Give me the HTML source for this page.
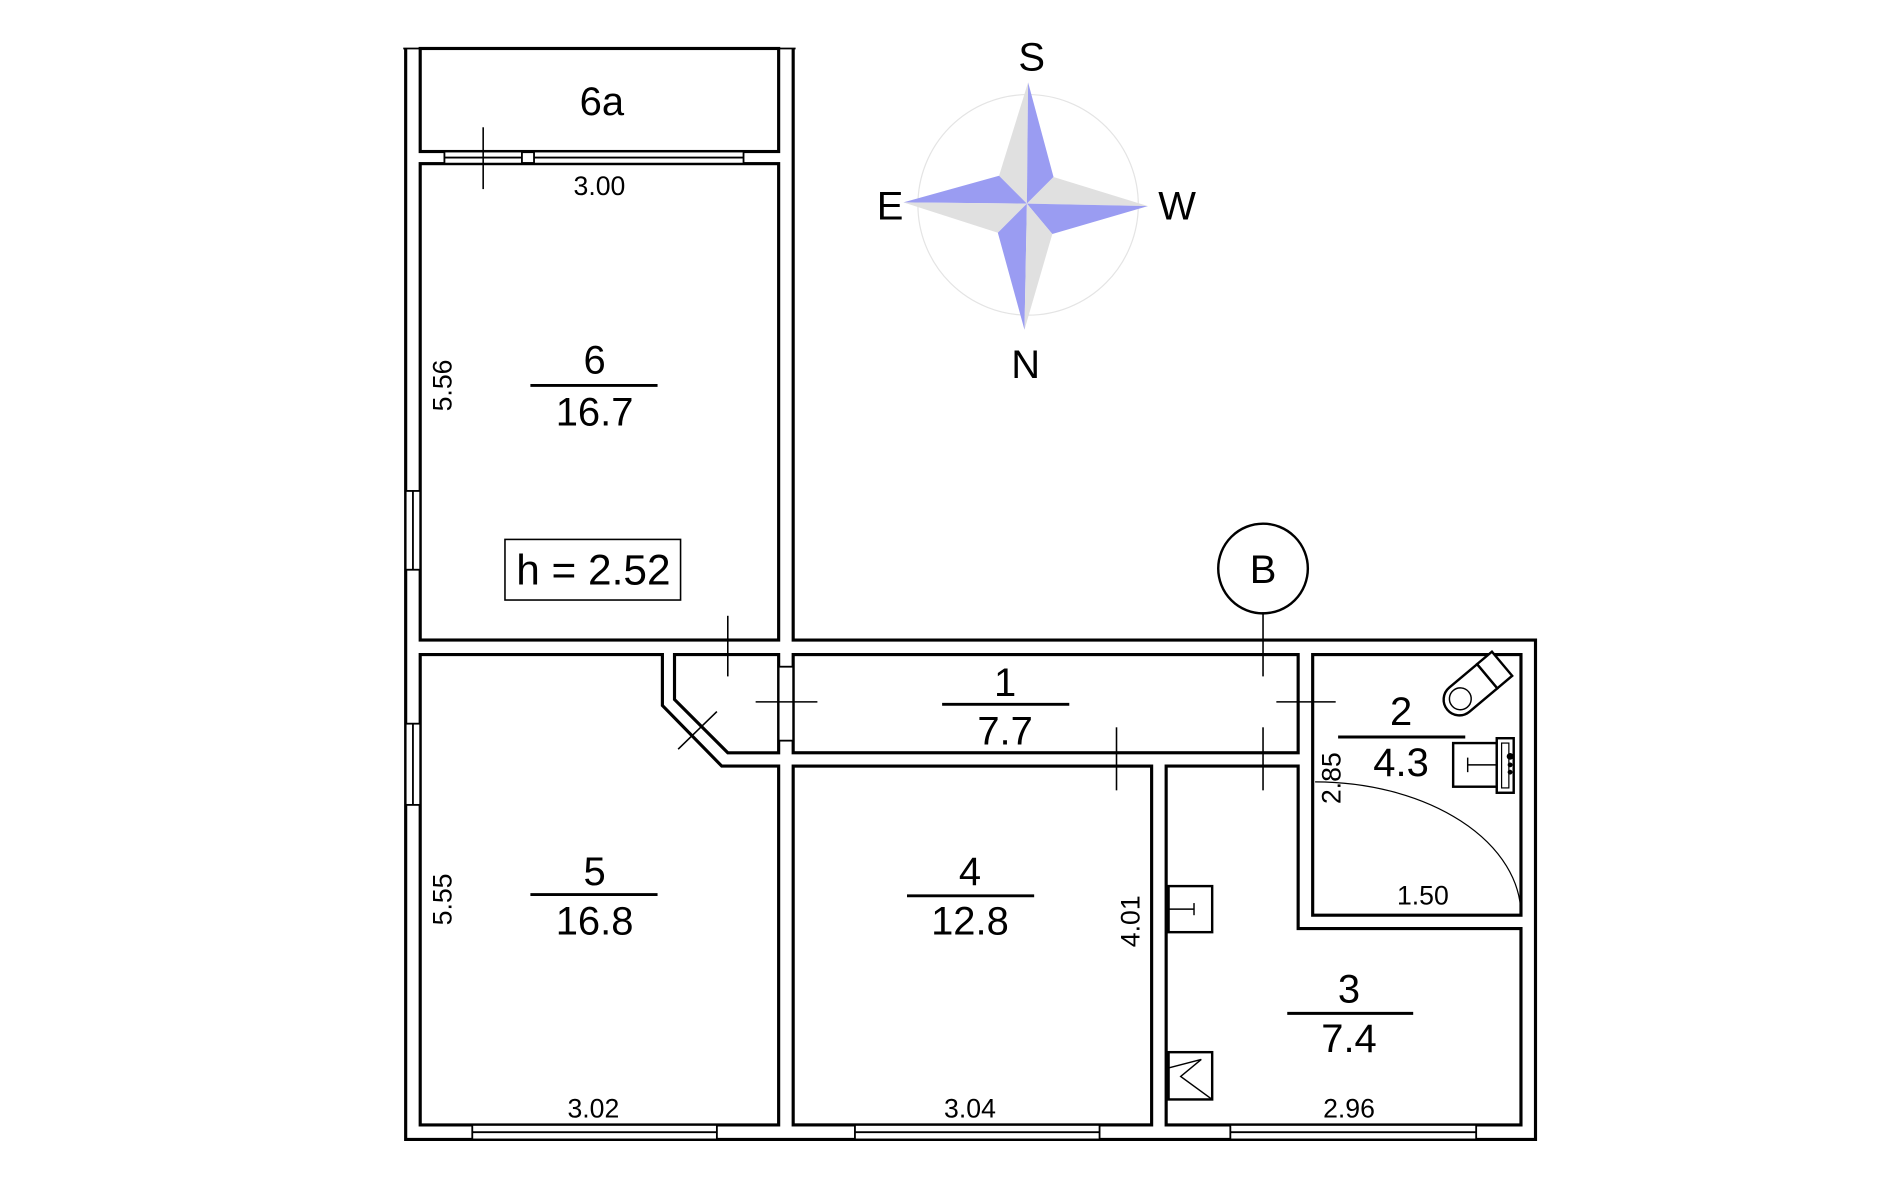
<!DOCTYPE html>
<html><head><meta charset="utf-8"><style>html,body{margin:0;padding:0;background:#fff}svg{display:block}</style></head>
<body>
<svg width="1900" height="1194" viewBox="0 0 1569 985" preserveAspectRatio="none" xmlns="http://www.w3.org/2000/svg" font-family="Liberation Sans, Arial, sans-serif">
<rect width="1569" height="985" fill="#fff"/>
<g fill="none" stroke="#000" stroke-width="2.6">
<polyline points="335,40 335,940 1268,940 1268,528 655,528 655,40"/>
<line x1="333" y1="40" x2="657" y2="40" stroke-width="1.5"/>
<rect x="347" y="40" width="296" height="85"/>
<rect x="347" y="135" width="296" height="393"/>
<polygon points="347,540 547,540 547,582 596,632 643,632 643,928 347,928"/>
<polygon points="557,540 643,540 643,621 601,621 557,577"/>
<rect x="655" y="540" width="417" height="81"/>
<rect x="655" y="632" width="296" height="296"/>
<polygon points="963,632 1072,632 1072,766 1256,766 1256,928 963,928"/>
<rect x="1084" y="540" width="172" height="215"/>
</g>
<g fill="#fff" stroke="#000" stroke-width="1.5">
<rect x="390" y="928" width="202" height="12"/><line x1="390" y1="934" x2="592" y2="934"/>
<rect x="706" y="928" width="202" height="12"/><line x1="706" y1="934" x2="908" y2="934"/>
<rect x="1016" y="928" width="203" height="12"/><line x1="1016" y1="934" x2="1219" y2="934"/>
<rect x="335" y="405" width="12" height="65"/><line x1="341" y1="405" x2="341" y2="470"/>
<rect x="335" y="597" width="12" height="67"/><line x1="341" y1="597" x2="341" y2="664"/>
<rect x="367" y="125" width="64" height="10"/><line x1="367" y1="130" x2="431" y2="130"/>
<rect x="441" y="125" width="173" height="10"/><line x1="441" y1="130" x2="614" y2="130"/>
<rect x="643" y="550" width="12" height="61"/>
</g>
<g stroke="#000" stroke-width="1.3" fill="none">
<line x1="399" y1="105" x2="399" y2="156"/>
<line x1="601" y1="508" x2="601" y2="558"/>
<line x1="624" y1="579" x2="675" y2="579"/>
<line x1="560" y1="618" x2="592" y2="587"/>
<line x1="922" y1="600" x2="922" y2="652"/>
<line x1="1043" y1="600" x2="1043" y2="652"/>
<line x1="1054" y1="579" x2="1103" y2="579"/>
<line x1="1043" y1="505" x2="1043" y2="558"/>
<circle cx="1043" cy="469" r="37" stroke-width="2"/>
<path d="M1086,645 A170,110 0 0 1 1256,755" stroke-width="1"/>
<rect x="417" y="445" width="145" height="50"/>
</g>
<g stroke="#000" stroke-width="2.4">
<line x1="438" y1="318" x2="543" y2="318"/>
<line x1="778" y1="581" x2="883" y2="581"/>
<line x1="438" y1="738" x2="543" y2="738"/>
<line x1="749" y1="739" x2="854" y2="739"/>
<line x1="1063" y1="836" x2="1167" y2="836"/>
<line x1="1105" y1="608" x2="1210" y2="608"/>
</g>
<g stroke="#000" stroke-width="2" fill="#fff">
<g transform="translate(1222,563) rotate(-40)">
<path d="M-22,-13 L8,-13 L8,13 L-22,13 A13,13 0 0 1 -22,-13 Z"/>
<rect x="8" y="-13" width="16" height="26"/>
<circle cx="-21" cy="0" r="9" stroke-width="1.2"/>
</g>
<rect x="1200" y="613" width="36" height="36"/>
<rect x="1236" y="609" width="14" height="45"/>
<rect x="1240" y="613" width="6" height="37" stroke-width="1"/>
<rect x="965" y="731" width="36" height="38"/>
<rect x="965" y="868" width="36" height="39"/>
</g>
<g stroke="#000" stroke-width="1.2" fill="none">
<line x1="1212" y1="631" x2="1236" y2="631"/><line x1="1212" y1="625" x2="1212" y2="637"/>
<line x1="965" y1="750" x2="986" y2="750"/><line x1="986" y1="745" x2="986" y2="755"/>
<polyline points="1001,907 975,888 992,874 965,881"/>
</g>
<g fill="#000"><circle cx="1247" cy="624" r="2.8"/><circle cx="1247" cy="631" r="2"/><circle cx="1247" cy="637" r="2"/></g>
<circle cx="849" cy="169" r="91" fill="none" stroke="#e4e4e4" stroke-width="1"/>
<g stroke="none">
<polygon points="849,68 848,168 825,145" fill="#e0e0e0"/>
<polygon points="849,68 848,168 870,146" fill="#9a9cf2"/>
<polygon points="746,167 848,168 825,145" fill="#9a9cf2"/>
<polygon points="746,167 848,168 824,192" fill="#e0e0e0"/>
<polygon points="948,170 848,168 870,146" fill="#e0e0e0"/>
<polygon points="948,170 848,168 869,193" fill="#9a9cf2"/>
<polygon points="846,272 848,168 824,192" fill="#9a9cf2"/>
<polygon points="846,272 848,168 869,193" fill="#e0e0e0"/>
</g>
<g fill="#000" text-anchor="middle">
<text x="852" y="58" font-size="33">S</text>
<text x="735" y="181" font-size="33">E</text>
<text x="972" y="181" font-size="33">W</text>
<text x="847" y="312" font-size="33">N</text>
<text x="1043" y="481" font-size="33">B</text>
<text x="497" y="95" font-size="33">6a</text>
<text x="491" y="308" font-size="33">6</text>
<text x="491" y="351" font-size="33">16.7</text>
<text x="490" y="482" font-size="35">h = 2.52</text>
<text x="830" y="574" font-size="33">1</text>
<text x="830" y="614" font-size="33">7.7</text>
<text x="491" y="730" font-size="33">5</text>
<text x="491" y="771" font-size="33">16.8</text>
<text x="801" y="730" font-size="33">4</text>
<text x="801" y="771" font-size="33">12.8</text>
<text x="1114" y="827" font-size="33">3</text>
<text x="1114" y="868" font-size="33">7.4</text>
<text x="1157" y="598" font-size="33">2</text>
<text x="1157" y="640" font-size="33">4.3</text>
<text x="495" y="161" font-size="22">3.00</text>
<text x="490" y="922" font-size="22">3.02</text>
<text x="801" y="922" font-size="22">3.04</text>
<text x="1114" y="922" font-size="22">2.96</text>
<text x="1175" y="746" font-size="22">1.50</text>
<text transform="translate(373,318) rotate(-90)" font-size="22">5.56</text>
<text transform="translate(373,742) rotate(-90)" font-size="22">5.55</text>
<text transform="translate(941,760) rotate(-90)" font-size="22">4.01</text>
<text transform="translate(1107,642) rotate(-90)" font-size="22">2.85</text>
</g>
</svg>
</body></html>
